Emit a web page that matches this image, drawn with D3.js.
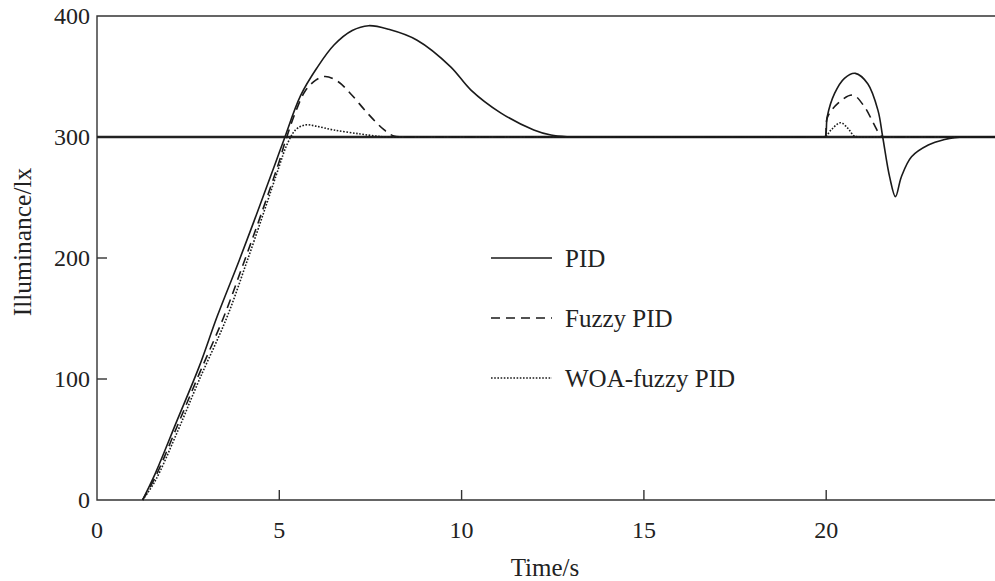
<!DOCTYPE html>
<html>
<head>
<meta charset="utf-8">
<script src="https://cdn.jsdelivr.net/npm/d3@7"></script>
<style>
  body { margin: 0; background: #fff; }
  text { font-family: "Liberation Serif", "Times New Roman", serif; fill: #222; }
</style>
</head>
<body>
<script>
var width = 995,
  height = 581;

// values
var xTicks = [0, 5, 10, 15, 20];
var yTicks = [0, 100, 200, 300, 400];
var setpoint = 300;

var pidT = [1.25, 1.6, 2.2, 2.8, 3.3, 3.9, 4.4, 4.9, 5.13, 5.58, 6.03, 6.5, 7.0, 7.45, 8.0, 8.78, 9.7, 10.25, 11.07, 11.98, 12.45, 12.9, 13.5, 19.9, 19.97,
  20.03, 20.23, 20.5, 20.8, 21.14, 21.42, 21.55, 21.74, 21.9, 22.06, 22.34, 22.8, 23.25, 23.52, 24.0, 25];
var pidV = [0, 22, 66, 110, 152, 198, 238, 279, 298, 334, 357, 376, 388, 392, 389, 380, 358, 339, 320, 305.8, 301.6, 300.2, 300, 300, 300,
  317, 336, 348.5, 352.6, 344, 322, 300, 267, 250.7, 267, 283.7, 293.4, 298, 299.5, 300, 300];

var fuzzyT = [1.25, 1.6, 2.2, 2.8, 3.46, 4.0, 4.5, 5.0, 5.15, 5.45, 5.71, 6.0, 6.26, 6.6, 6.95, 7.41, 7.87, 8.14, 8.4, 9.0, 19.9, 19.97,
  20.03, 20.32, 20.73, 21.05, 21.32, 21.5, 21.7, 22.5, 25];
var fuzzyV = [0, 19, 61, 104, 150, 194, 236, 280, 295, 321, 338, 347, 350, 346, 336, 320, 306, 300.8, 300, 300, 300, 300,
  316, 327.8, 334.7, 325, 310, 301, 300, 300, 300];

var woaT = [1.25, 1.6, 2.2, 2.8, 3.55, 4.1, 4.6, 5.0, 5.2, 5.45, 5.71, 6.0, 6.49, 7.22, 7.7, 8.0, 9.0, 19.9, 19.97,
  20.14, 20.39, 20.6, 20.76, 20.9, 21.5, 25];
var woaV = [0, 16, 56, 99, 150, 196, 240, 276, 293, 306, 310, 309, 305.8, 302.5, 300.6, 300, 300, 300, 300,
  306, 311.8, 307, 301, 300, 300, 300];

var legendLabels = ["PID", "Fuzzy PID", "WOA-fuzzy PID"];
var legendDash = [null, "9,6", "1.6,1.6"];

var svg = d3.select("body").append("svg")
  .attr("width", width)
  .attr("height", height);

var x = d3.scaleLinear().domain([0, 25]).range([97, 1008.5]);
var y = d3.scaleLinear().domain([0, 400]).range([500, 16]);

var line = d3.line()
  .x(function(d) { return x(d[0]); })
  .y(function(d) { return y(d[1]); })
  .curve(d3.curveCatmullRom.alpha(0.5));

// frame
svg.append("path")
  .attr("d", "M" + x(25) + "," + y(400) + "H" + x(0) + "V" + y(0) + "H" + x(25))
  .attr("fill", "none")
  .attr("stroke", "#333")
  .attr("stroke-width", 1.4);

// inward ticks
svg.selectAll(".xt")
  .data(xTicks.filter(function(d) { return d > 0; }))
  .enter().append("line")
    .attr("x1", function(d) { return x(d); })
    .attr("x2", function(d) { return x(d); })
    .attr("y1", y(0))
    .attr("y2", y(0) - 10)
    .attr("stroke", "#333")
    .attr("stroke-width", 1.4);

svg.selectAll(".yt")
  .data(yTicks.filter(function(d) { return d > 0 && d < 400; }))
  .enter().append("line")
    .attr("x1", x(0))
    .attr("x2", x(0) + 10)
    .attr("y1", function(d) { return y(d); })
    .attr("y2", function(d) { return y(d); })
    .attr("stroke", "#333")
    .attr("stroke-width", 1.4);

// tick labels
svg.selectAll(".xl")
  .data(xTicks)
  .enter().append("text")
    .attr("x", function(d) { return x(d); })
    .attr("y", 538)
    .attr("text-anchor", "middle")
    .attr("font-size", 24)
    .text(function(d) { return d; });

svg.selectAll(".yl")
  .data(yTicks)
  .enter().append("text")
    .attr("x", 90)
    .attr("y", function(d) { return y(d) + 8; })
    .attr("text-anchor", "end")
    .attr("font-size", 24)
    .text(function(d) { return d; });

// axis titles
svg.append("text")
  .attr("transform", "translate(31,242) rotate(-90)")
  .attr("text-anchor", "middle")
  .attr("font-size", 25.5)
  .text("Illuminance/lx");

svg.append("text")
  .attr("x", 545)
  .attr("y", 576)
  .attr("text-anchor", "middle")
  .attr("font-size", 25)
  .text("Time/s");

// setpoint line
svg.append("line")
  .attr("x1", x(0))
  .attr("x2", x(25))
  .attr("y1", y(setpoint))
  .attr("y2", y(setpoint))
  .attr("stroke", "#222")
  .attr("stroke-width", 2.6);

var series = [
  { t: pidT, v: pidV, dash: legendDash[0] },
  { t: fuzzyT, v: fuzzyV, dash: legendDash[1] },
  { t: woaT, v: woaV, dash: legendDash[2] }
];

series.forEach(function(s) {
  var pts = s.t.map(function(t, i) { return [t, s.v[i]]; });
  svg.append("path")
    .datum(pts)
    .attr("d", line)
    .attr("fill", "none")
    .attr("stroke", "#1a1a1a")
    .attr("stroke-width", 1.6)
    .attr("stroke-dasharray", s.dash);
});

// legend
var legend = svg.selectAll(".leg")
  .data(legendLabels)
  .enter().append("g")
    .attr("transform", function(d, i) { return "translate(491," + (258 + i * 60) + ")"; });

legend.append("line")
  .attr("x1", 0)
  .attr("x2", 61)
  .attr("stroke", "#1a1a1a")
  .attr("stroke-width", 1.6)
  .attr("stroke-dasharray", function(d, i) { return legendDash[i]; });

legend.append("text")
  .attr("x", 74)
  .attr("y", 8.5)
  .attr("font-size", 25)
  .text(function(d) { return d; });
</script>
</body>
</html>
